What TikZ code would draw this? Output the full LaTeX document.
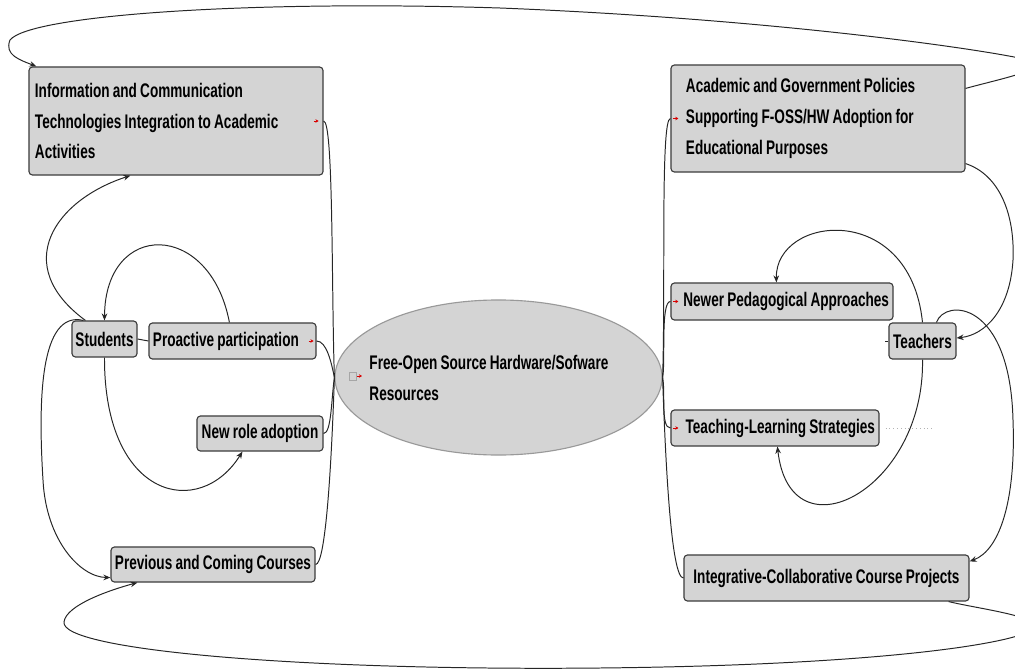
\documentclass[tikz,border=0pt]{standalone}
\usepackage{fontspec}
\setmainfont{Liberation Sans}[FakeStretch=0.69, WordSpace=0.85]
\usetikzlibrary{calc,shapes.geometric,arrows.meta}
\definecolor{boxgray}{HTML}{D4D4D4}
\definecolor{rimgray}{HTML}{3C3C3C}
\definecolor{wiregray}{HTML}{262626}

\begin{document}
\begin{tikzpicture}[x=0.025cm, y=-0.025cm,
		topic/.style={draw=rimgray, fill=boxgray, rounded corners=2.5pt, line width=0.8pt, inner sep=0pt, font=\fontsize{14}{22}\selectfont\bfseries},
		topictext/.style={inner sep=0pt, font=\fontsize{14}{22}\selectfont\bfseries},
		wire/.style={draw=wiregray, line width=0.7pt},
		arrowwire/.style={wire, -{Stealth[length=5pt,width=4pt]}},
		redmark/.style={draw=red!85!black, line width=0.6pt, -{Stealth[length=2.2pt,width=2.5pt]}}]
		%%%%% START %%%%%
		
		\useasboundingbox (0,0) rectangle (1015,670);
		\clip (0,0) rectangle (1015,670);
		
		\node[topic, text width=7.05cm, align=flush left, minimum height=2.7cm, inner xsep=0.15cm] (ict) at (176,121) {Information and Communication\\Technologies Integration to Academic\\Activities};
		\node[topic, text width=6.6cm, align=flush left, minimum height=2.675cm, inner xsep=0.375cm] (pol) at (818,118.5) {Academic and Government Policies\\Supporting F-OSS/HW Adoption for\\Educational Purposes};
		
		\node[topic, minimum width=1.625cm, minimum height=0.9cm] (stud) at (104.5,339) {Students};
		\node[topic, text width=3.975cm, align=flush left, inner xsep=0.1cm, minimum height=0.9cm] (pro) at (232.5,341) {Proactive participation};
		\node[topic, minimum width=3.15cm, minimum height=0.875cm] (newrole) at (260,433.5) {New role adoption};
		\node[topic, minimum width=5.1cm, minimum height=0.875cm] (prev) at (213,564.5) {Previous and Coming Courses};
		
		\node[topic, text width=5.35cm, align=flush right, inner xsep=0.1cm, minimum height=0.925cm] (newer) at (782,301.5) {Newer Pedagogical Approaches};
		\node[topic, minimum width=1.675cm, minimum height=0.9cm] (tchr) at (922.5,341) {Teachers};
		\node[topic, text width=5.0cm, align=flush right, inner xsep=0.1cm, minimum height=0.9cm] (tls) at (775,428) {Teaching-Learning Strategies};
		\node[topic, minimum width=7.125cm, minimum height=1.15cm] (icp) at (826.5,578) {Integrative-Collaborative Course Projects};
		
		\node[ellipse, draw=gray!80, fill=boxgray, line width=0.8pt, minimum width=8.175cm, minimum height=3.875cm, inner sep=0pt] (fosh) at (498.5,377.5) {};
		\node[topictext, text width=6.45cm, align=flush left] (foshtext) at (fosh.center) {Free-Open Source Hardware/Sofware\\Resources};
		
		\draw[fill=gray!35, draw=gray!70] (349,372) rectangle (356,380);
		\draw[redmark] (357,376) -- +(5,0);
		\draw[redmark] ($(ict.east)+(-10,0)$) -- +(5,0);
		\draw[redmark] ($(pro.east)+(-8,0)$) -- +(5,0);
		\draw[redmark] ($(pol.west)+(3,0)$) -- +(5,0);
		\draw[redmark] ($(newer.west)+(3,0)$) -- +(5,0);
		\draw[redmark] ($(tls.west)+(3,0)$) -- +(5,0);
		
		\draw[wire] (ict.east) .. controls +(10,0) and +(-3,-90) .. (fosh.west);
		\draw[wire] (pro.east) .. controls +(10,0) and +(-3,-15) .. (fosh.west);
		\draw[wire] (newrole.east) .. controls +(8,0) and +(-3,20) .. (fosh.west);
		\draw[wire] (prev.east) .. controls +(10,0) and +(-3,90) .. (fosh.west);
		
		\draw[wire] (fosh.east) .. controls +(3,-90) and +(-10,0) .. (pol.west);
		\draw[wire] (fosh.east) .. controls +(3,-15) and +(-10,0) .. (newer.west);
		\draw[wire] (fosh.east) .. controls +(3,15) and +(-10,0) .. (tls.west);
		\draw[wire] (fosh.east) .. controls +(3,90) and +(-12,0) .. (icp.west);
		
		\draw[wire] (stud.east) -- (pro.west);
		\draw[wire] (tchr.west) -- +(-3,0);
		\draw[wire, dotted, gray!60] ($(tls.east)+(6,0)$) -- +(47,0);
		
		\draw[arrowwire] ($(stud.north west)+(14,0)$) .. controls (10,265) and (55,200) .. ($(ict.south west)+(102,0)$);
		\draw[arrowwire] ($(pro.north west)+(81,0)$) .. controls (210,220) and (105,220) .. (stud.north);
		\draw[arrowwire] (stud.south) .. controls (104,500) and (200,520) .. ($(newrole.south west)+(46,0)$);
		\draw[arrowwire] ($(stud.north west)+(12,0)$) .. controls (40,310) and (38,400) .. (43,480) .. controls (46,540) and (80,577) .. ($(prev.south west)+(0,-5)$);
		
		\draw[arrowwire] ($(pol.south east)+(0,-9)$) .. controls (1000,175) and (1015,215) .. (1013,260) .. controls (1010,310) and (985,335) .. ($(tchr.east)+(0,-3)$);
		\draw[arrowwire] (tchr.north) .. controls (910,200) and (775,215) .. ($(newer.north west)+(106,0)$);
		\draw[arrowwire] (tchr.south) .. controls (925,490) and (790,560) .. ($(tls.south west)+(107,0)$);
		\draw[arrowwire] ($(tchr.north west)+(48,0)$) .. controls (945,298) and (1010,300) .. (1013,420) .. controls (1016,500) and (1000,550) .. ($(icp.north east)+(0,7)$);
		
		\draw[arrowwire] ($(pol.north east)+(0,24)$) .. controls (1000,79) and (1045,70) .. (1035,62) .. controls (1020,55) and (800,20) .. (500,8) .. controls (250,0) and (30,15) .. (10,40) .. controls (4,55) and (20,60) .. ($(ict.north west)+(8,0)$);
		\draw[arrowwire] ($(icp.south east)+(-21,0)$) .. controls (975,608) and (1030,615) .. (1035,625) .. controls (1040,640) and (900,665) .. (600,668) .. controls (300,671) and (60,650) .. (64,622) .. controls (66,605) and (110,590) .. ($(prev.south west)+(27,0)$);
		
		%%%%% END %%%%%
	\end{tikzpicture}
\end{document}
